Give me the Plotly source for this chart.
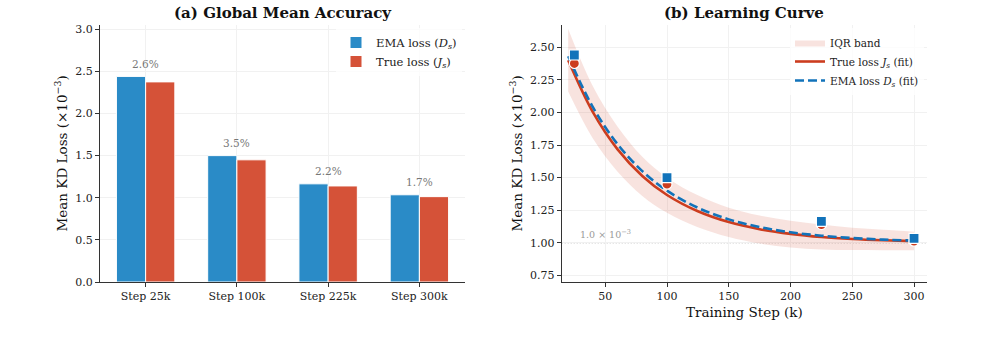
import plotly.graph_objects as go

# ---------------- data ----------------
categories = ["Step 25k", "Step 100k", "Step 225k", "Step 300k"]
ema_loss = [2.44, 1.50, 1.165, 1.035]
true_loss = [2.375, 1.45, 1.14, 1.013]
gap_labels = ["2.6%", "3.5%", "2.2%", "1.7%"]

steps_k = [25, 100, 225, 300]

fit_x = [20, 40, 60, 80, 100, 125, 150, 175, 200, 225, 250, 275, 300]
true_fit = [2.400, 2.002, 1.717, 1.513, 1.367, 1.242, 1.159, 1.105, 1.069, 1.045, 1.030, 1.020, 1.013]
ema_fit = [2.430, 2.040, 1.756, 1.550, 1.400, 1.269, 1.180, 1.121, 1.081, 1.055, 1.037, 1.025, 1.017]
iqr_upper = [2.64, 2.20, 1.89, 1.66, 1.50, 1.365, 1.27, 1.21, 1.17, 1.14, 1.115, 1.10, 1.085]
iqr_lower = [2.16, 1.80, 1.545, 1.36, 1.23, 1.12, 1.045, 0.995, 0.965, 0.95, 0.945, 0.944, 0.944]

ref_level = 1.0

# ---------------- styles ----------------
SERIF = "DejaVu Serif"
BAR_BLUE = "#2A8BC7"
BAR_RED = "#D55238"
LINE_RED = "#CC3D1F"
LINE_BLUE = "#1273BA"
AXC = "#333333"
GRID = "#F1F1F1"

W, H = 985, 352
def px_x(p):
    return p / W
def px_y(p):
    return 1 - p / H

fig = go.Figure()

# ---- panel (a): bars ----
fig.add_trace(go.Bar(
    x=categories, y=ema_loss, name="EMA loss (<i>D</i><sub><i>s</i></sub>)",
    marker=dict(color=BAR_BLUE, line=dict(color="white", width=1)),
    xaxis="x", yaxis="y", legend="legend",
))
fig.add_trace(go.Bar(
    x=categories, y=true_loss, name="True loss (<i>J</i><sub><i>s</i></sub>)",
    marker=dict(color=BAR_RED, line=dict(color="white", width=1)),
    xaxis="x", yaxis="y", legend="legend",
))

# ---- panel (b): learning curve ----
fig.add_trace(go.Scatter(
    x=fit_x, y=iqr_lower, mode="lines", line=dict(width=0, color="rgba(0,0,0,0)", shape="spline"),
    showlegend=False, hoverinfo="skip", xaxis="x2", yaxis="y2",
))
fig.add_trace(go.Scatter(
    x=fit_x, y=iqr_upper, mode="lines", line=dict(width=0, color="rgba(0,0,0,0)", shape="spline"),
    fill="tonexty", fillcolor="rgba(213,82,56,0.16)", name="IQR band",
    xaxis="x2", yaxis="y2", legend="legend2",
))
fig.add_trace(go.Scatter(
    x=fit_x, y=true_fit, mode="lines", line=dict(color=LINE_RED, width=2.6, shape="spline"),
    name="True loss <i>J</i><sub><i>s</i></sub> (fit)", xaxis="x2", yaxis="y2", legend="legend2",
))
fig.add_trace(go.Scatter(
    x=fit_x, y=ema_fit, mode="lines", line=dict(color=LINE_BLUE, width=2.6, dash="9px,4px", shape="spline"),
    name="EMA loss <i>D</i><sub><i>s</i></sub> (fit)", xaxis="x2", yaxis="y2", legend="legend2",
))
fig.add_trace(go.Scatter(
    x=steps_k, y=true_loss, mode="markers",
    marker=dict(symbol="circle", size=10, color=LINE_RED, line=dict(color="white", width=1.2)),
    showlegend=False, xaxis="x2", yaxis="y2",
))
fig.add_trace(go.Scatter(
    x=steps_k, y=ema_loss, mode="markers",
    marker=dict(symbol="square", size=10, color=LINE_BLUE, line=dict(color="white", width=1.2)),
    showlegend=False, xaxis="x2", yaxis="y2",
))

# ---------------- annotations ----------------
ann = []
for c, e, t, lab in zip(categories, ema_loss, true_loss, gap_labels):
    ann.append(dict(x=c, y=max(e, t) + 0.055, xref="x", yref="y", text=lab, showarrow=False,
                    xanchor="center", yanchor="bottom",
                    font=dict(family=SERIF, size=10.5, color="#777777")))

ann.append(dict(x=28, y=ref_level + 0.005, xref="x2", yref="y2", text="1.0 × 10<sup>−3</sup>",
                showarrow=False, xanchor="left", yanchor="bottom",
                font=dict(family=SERIF, size=9.5, color="#999999")))

def paper_text(x, y, text, size, angle=0):
    return dict(x=px_x(x), y=px_y(y), xref="paper", yref="paper", text=text, textangle=angle,
                showarrow=False, xanchor="center", yanchor="middle",
                font=dict(family=SERIF, size=size, color="#111111"))

ann.append(paper_text(282.5, 13, "<b>(a) Global Mean Accuracy</b>", 15))
ann.append(paper_text(744, 13, "<b>(b) Learning Curve</b>", 15))
ann.append(paper_text(61, 153.5, "Mean KD Loss (×10<sup>−3</sup>)", 13.5, -90))
ann.append(paper_text(516, 153.5, "Mean KD Loss (×10<sup>−3</sup>)", 13.5, -90))
ann.append(paper_text(744, 312, "Training Step (k)", 13.5))

shapes = [dict(type="line", xref="x2 domain", yref="y2", x0=0, x1=1, y0=ref_level, y1=ref_level,
               line=dict(color="#9A9A9A", width=1, dash="1px,2px"), layer="below")]

axis_common = dict(showline=True, linecolor=AXC, linewidth=1.1, ticks="outside", ticklen=4,
                   tickcolor=AXC, tickwidth=1, showgrid=True, gridcolor=GRID, gridwidth=1,
                   zeroline=False, mirror=False, automargin=False,
                   tickfont=dict(family=SERIF, size=11, color="#222222"))

fig.update_layout(
    width=W, height=H, margin=dict(l=0, r=0, t=0, b=0, autoexpand=False),
    paper_bgcolor="white", plot_bgcolor="white",
    barmode="group", bargap=0.36, bargroupgap=0.0,
    xaxis=dict(domain=[px_x(100), px_x(465)], range=[-0.5, 3.5], anchor="y", **axis_common),
    yaxis=dict(domain=[px_y(282), px_y(25)], range=[0, 3.05], anchor="x",
               tickvals=[0, 0.5, 1.0, 1.5, 2.0, 2.5, 3.0], tickformat=".1f", **axis_common),
    xaxis2=dict(domain=[px_x(561.7), px_x(926.7)], range=[14.75, 310.25], anchor="y2",
                tickvals=[50, 100, 150, 200, 250, 300], **axis_common),
    yaxis2=dict(domain=[px_y(282), px_y(25)], range=[0.70, 2.67], anchor="x2",
                tickvals=[0.75, 1.0, 1.25, 1.5, 1.75, 2.0, 2.25, 2.5], tickformat=".2f", **axis_common),
    legend=dict(x=px_x(462), y=px_y(28), xanchor="right", yanchor="top",
                bgcolor="rgba(255,255,255,0.8)", borderwidth=0, tracegroupgap=0,
                traceorder="normal",
                font=dict(family=SERIF, size=11.5, color="#222222")),
    legend2=dict(x=px_x(924), y=px_y(28), xanchor="right", yanchor="top",
                 bgcolor="rgba(255,255,255,0.8)", borderwidth=0, tracegroupgap=0,
                 traceorder="normal",
                 font=dict(family=SERIF, size=10.5, color="#222222")),
    annotations=ann, shapes=shapes,
)

fig.write_html("out.html")
